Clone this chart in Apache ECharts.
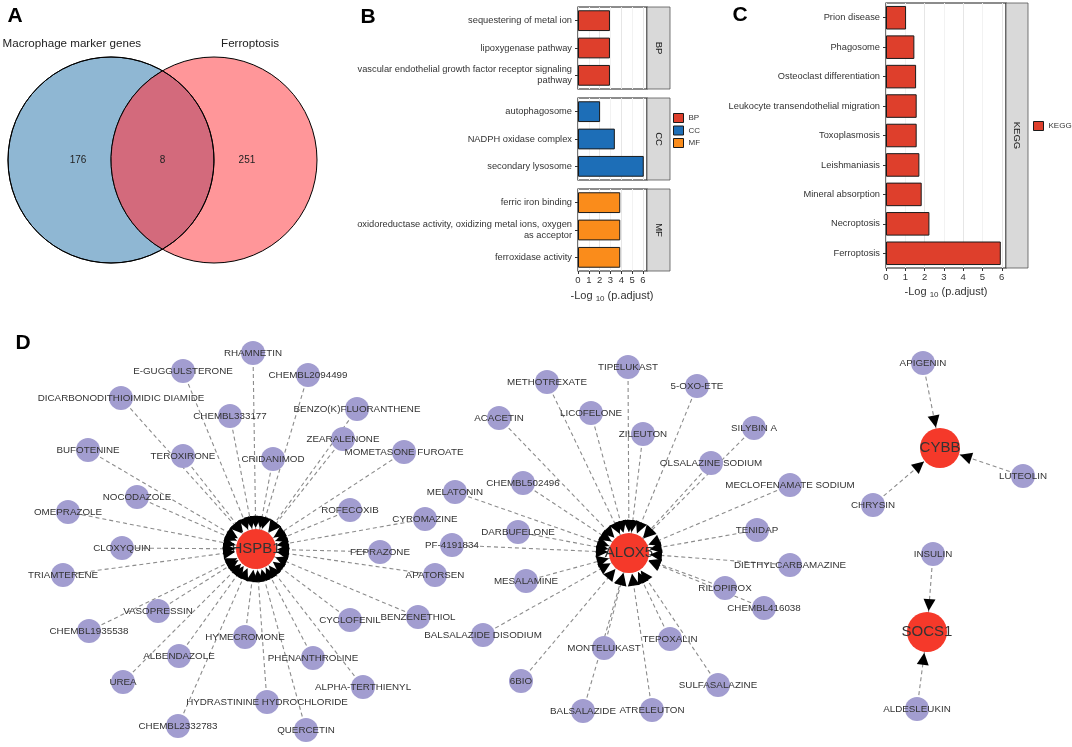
<!DOCTYPE html>
<html><head><meta charset="utf-8">
<script src="https://cdn.jsdelivr.net/npm/echarts@6/dist/echarts.min.js"></script>
<style>html,body{margin:0;padding:0;background:#fff}#c{width:1072px;height:747px}</style>
</head><body><div id="c"></div>
<script>
const FONT = '"Liberation Sans", Arial, Helvetica, sans-serif';
const TXT = '#333333';

// ---------- Panel A: Venn ----------
const vennSets = ['Macrophage marker genes', 'Ferroptosis'];
const vennCounts = [176, 8, 251]; // only set 1, both, only set 2
const vennColors = ['#8fb7d3', '#ff9699', '#d36a7c'];

// ---------- Panel B: GO ----------
const bpTerms = ['sequestering of metal ion', 'lipoxygenase pathway', 'vascular endothelial growth factor receptor signaling\npathway'];
const bpValues = [2.95, 2.95, 2.95];
const ccTerms = ['autophagosome', 'NADPH oxidase complex', 'secondary lysosome'];
const ccValues = [2.04, 3.40, 6.07];
const mfTerms = ['ferric iron binding', 'oxidoreductase activity, oxidizing metal ions, oxygen\nas acceptor', 'ferroxidase activity'];
const mfValues = [3.90, 3.90, 3.90];
const goOntologies = ['BP', 'CC', 'MF'];
const goColors = ['#de3f2c', '#1d6eb7', '#fa8c1b'];
const tickValues = [0, 1, 2, 3, 4, 5, 6];

// ---------- Panel C: KEGG ----------
const keggTerms = ['Prion disease', 'Phagosome', 'Osteoclast differentiation', 'Leukocyte transendothelial migration', 'Toxoplasmosis', 'Leishmaniasis', 'Mineral absorption', 'Necroptosis', 'Ferroptosis'];
const keggValues = [1.04, 1.47, 1.56, 1.59, 1.59, 1.73, 1.85, 2.25, 5.95];

// ---------- Panel D: network (layout coordinates) ----------
const hubNames = ['HSPB1', 'ALOX5', 'CYBB', 'SOCS1'];
const hubXY = [[256, 549], [629, 553], [940, 448], [927, 632]];
const hspb1Drugs = [
  ['RHAMNETIN', 253, 353], ['E-GUGGULSTERONE', 183, 371], ['CHEMBL2094499', 308, 375],
  ['DICARBONODITHIOIMIDIC DIAMIDE', 121, 398], ['CHEMBL333177', 230, 416], ['BENZO(K)FLUORANTHENE', 357, 409],
  ['ZEARALENONE', 343, 439], ['MOMETASONE FUROATE', 404, 452], ['BUFOTENINE', 88, 450],
  ['TEROXIRONE', 183, 456], ['CRIDANIMOD', 273, 459], ['NOCODAZOLE', 137, 497],
  ['ROFECOXIB', 350, 510], ['OMEPRAZOLE', 68, 512], ['CYROMAZINE', 425, 519],
  ['CLOXYQUIN', 122, 548], ['FEPRAZONE', 380, 552], ['TRIAMTERENE', 63, 575],
  ['APATORSEN', 435, 575], ['VASOPRESSIN', 158, 611], ['BENZENETHIOL', 418, 617],
  ['CYCLOFENIL', 350, 620], ['CHEMBL1935538', 89, 631], ['HYMECROMONE', 245, 637],
  ['ALBENDAZOLE', 179, 656], ['PHENANTHROLINE', 313, 658], ['UREA', 123, 682],
  ['ALPHA-TERTHIENYL', 363, 687], ['HYDRASTININE HYDROCHLORIDE', 267, 702], ['CHEMBL2332783', 178, 726],
  ['QUERCETIN', 306, 730]
];
const alox5Drugs = [
  ['TIPELUKAST', 628, 367], ['METHOTREXATE', 547, 382], ['5-OXO-ETE', 697, 386],
  ['ACACETIN', 499, 418], ['LICOFELONE', 591, 413], ['SILYBIN A', 754, 428],
  ['ZILEUTON', 643, 434], ['OLSALAZINE SODIUM', 711, 463], ['CHEMBL502496', 523, 483],
  ['MELATONIN', 455, 492], ['MECLOFENAMATE SODIUM', 790, 485], ['DARBUFELONE', 518, 532],
  ['TENIDAP', 757, 530], ['PF-4191834', 452, 545], ['DIETHYLCARBAMAZINE', 790, 565],
  ['MESALAMINE', 526, 581], ['RILOPIROX', 725, 588], ['BALSALAZIDE DISODIUM', 483, 635],
  ['CHEMBL416038', 764, 608], ['MONTELUKAST', 604, 648], ['TEPOXALIN', 670, 639],
  ['6BIO', 521, 681], ['SULFASALAZINE', 718, 685], ['BALSALAZIDE', 583, 711],
  ['ATRELEUTON', 652, 710]
];
const cybbDrugs = [['APIGENIN', 923, 363], ['LUTEOLIN', 1023, 476], ['CHRYSIN', 873, 505]];
const socs1Drugs = [['INSULIN', 933, 554], ['ALDESLEUKIN', 917, 709]];
const drugGroups = [hspb1Drugs, alox5Drugs, cybbDrugs, socs1Drugs];

const HUB_SIZE = 40, DRUG_SIZE = 24;
const HUB_COLOR = '#f5392a', DRUG_COLOR = '#a29dd0';

function buildNodes(arrowLayer) {
  const nodes = [];
  hubNames.forEach(function (h, i) {
    nodes.push({
      name: h, value: hubXY[i],
      symbolSize: arrowLayer ? 54 : HUB_SIZE,
      itemStyle: { color: HUB_COLOR, opacity: arrowLayer ? 0 : 1 },
      label: { show: !arrowLayer, fontSize: 15, color: TXT }
    });
  });
  drugGroups.forEach(function (g) {
    g.forEach(function (d) {
      nodes.push({
        name: d[0], value: [d[1], d[2]],
        symbolSize: DRUG_SIZE,
        itemStyle: { color: DRUG_COLOR, opacity: arrowLayer ? 0 : 1 },
        label: { show: !arrowLayer, fontSize: 9.8, color: TXT }
      });
    });
  });
  return nodes;
}
const links = [];
drugGroups.forEach(function (g, i) {
  g.forEach(function (d) { links.push({ source: d[0], target: hubNames[i] }); });
});

// ---------- helpers ----------
function barX(gi, max, showLabels) {
  return {
    type: 'value', gridIndex: gi, min: 0, max: max, interval: 0.5,
    axisLine: { show: false },
    axisTick: { show: showLabels, length: 3, lineStyle: { color: '#333' }, customValues: tickValues },
    axisLabel: { show: showLabels, margin: 4, fontSize: 9.5, color: TXT, fontFamily: FONT, customValues: tickValues },
    splitLine: { show: true, lineStyle: { color: ['#e6e6e6', '#f2f2f2'], width: 1 } }
  };
}
function barY(gi, terms) {
  return {
    type: 'category', gridIndex: gi, data: terms, inverse: true,
    axisLine: { show: false },
    axisTick: { show: true, alignWithLabel: true, length: 3, lineStyle: { color: '#333' } },
    axisLabel: { interval: 0, margin: 6, fontSize: 9.3, lineHeight: 11, color: TXT, fontFamily: FONT },
    splitLine: { show: false }
  };
}
const gridStyle = { show: true, borderColor: '#1a1a1a', borderWidth: 1.2, backgroundColor: '#fff' };

function strip(x, y, w, h, label) {
  return [
    { type: 'rect', shape: { x: x, y: y, width: w, height: h }, style: { fill: '#d9d9d9', stroke: '#555', lineWidth: 0.8 } },
    { type: 'text', x: x + w / 2, y: y + h / 2, rotation: -Math.PI / 2,
      style: { text: label, align: 'center', verticalAlign: 'middle', fontSize: 9.5, fill: '#1a1a1a', fontFamily: FONT } }
  ];
}
function axisTitle(cx, cy) {
  return { type: 'text', x: cx, y: cy,
    style: { text: '{a|-Log }{s|10}{a| (p.adjust)}', align: 'center', verticalAlign: 'middle',
      rich: { a: { fontSize: 11, fill: TXT, fontFamily: FONT }, s: { fontSize: 8, fill: TXT, fontFamily: FONT, padding: [6, 0, 0, 0] } } } };
}
function letter(ch, cx, cy) {
  return { type: 'text', x: cx, y: cy, style: { text: ch, align: 'center', verticalAlign: 'middle', fontSize: 21, fontWeight: 'bold', fill: '#000', fontFamily: FONT } };
}

const chart = echarts.init(document.getElementById('c'), null, { renderer: 'canvas' });
const option = {
  animation: false,
  backgroundColor: '#fff',
  textStyle: { fontFamily: FONT },
  grid: [
    { left: 8, top: 57, width: 309, height: 206, show: false },
    Object.assign({ left: 578, top: 7, width: 69, height: 82 }, gridStyle),
    Object.assign({ left: 578, top: 98, width: 69, height: 82 }, gridStyle),
    Object.assign({ left: 578, top: 189, width: 69, height: 82 }, gridStyle),
    Object.assign({ left: 886, top: 3, width: 120, height: 265 }, gridStyle),
    { left: 0, top: 0, width: 1072, height: 747, show: false }
  ],
  xAxis: [
    { type: 'value', gridIndex: 0, min: -1, max: 2, show: false },
    barX(1, 6.37, false), barX(2, 6.37, false), barX(3, 6.37, true),
    barX(4, 6.22, true),
    { type: 'value', gridIndex: 5, min: 0, max: 1072, show: false }
  ],
  yAxis: [
    { type: 'value', gridIndex: 0, min: -1, max: 1, show: false },
    barY(1, bpTerms), barY(2, ccTerms), barY(3, mfTerms), barY(4, keggTerms),
    { type: 'value', gridIndex: 5, min: 0, max: 747, inverse: true, show: false }
  ],
  legend: [
    { data: goOntologies, orient: 'vertical', left: 673, top: 113, padding: 0, itemWidth: 10, itemHeight: 9, itemGap: 2.5, icon: 'rect',
      selectedMode: false, textStyle: { fontSize: 8, color: TXT, fontFamily: FONT }, itemStyle: { borderColor: '#1a1a1a', borderWidth: 1 } },
    { data: ['KEGG'], orient: 'vertical', left: 1033, top: 121, padding: 0, itemWidth: 10, itemHeight: 9, icon: 'rect',
      selectedMode: false, textStyle: { fontSize: 8, color: TXT, fontFamily: FONT }, itemStyle: { borderColor: '#1a1a1a', borderWidth: 1 } }
  ],
  graphic: [].concat(
    strip(647, 7, 23, 82, 'BP'), strip(647, 98, 23, 82, 'CC'), strip(647, 189, 23, 82, 'MF'),
    strip(1006, 3, 22, 265, 'KEGG'),
    [axisTitle(612, 296), axisTitle(946, 292),
     letter('A', 15, 16), letter('B', 368, 17), letter('C', 740, 15), letter('D', 23, 343)]
  ),
  series: [
    {
      type: 'custom', xAxisIndex: 0, yAxisIndex: 0, silent: true,
      data: [[0, 1]],
      renderItem: function (params, api) {
        const c1 = api.coord([api.value(0), 0]);
        const c2 = api.coord([api.value(1), 0]);
        const R = api.coord([api.value(0) + 1, 0])[0] - c1[0];
        const d = c2[0] - c1[0];
        const mx = (c1[0] + c2[0]) / 2, my = c1[1];
        const h = Math.sqrt(R * R - d * d / 4);
        const lens = 'M ' + mx + ' ' + (my - h) + ' A ' + R + ' ' + R + ' 0 0 1 ' + mx + ' ' + (my + h) +
                     ' A ' + R + ' ' + R + ' 0 0 1 ' + mx + ' ' + (my - h) + ' Z';
        const txt = function (t, x, y, fs) {
          return { type: 'text', style: { text: String(t), x: x, y: y, align: 'center', verticalAlign: 'middle', fontSize: fs, fill: '#222', fontFamily: FONT } };
        };
        return {
          type: 'group',
          children: [
            { type: 'circle', shape: { cx: c1[0], cy: c1[1], r: R }, style: { fill: vennColors[0], stroke: '#000', lineWidth: 1 } },
            { type: 'circle', shape: { cx: c2[0], cy: c2[1], r: R }, style: { fill: vennColors[1], stroke: '#000', lineWidth: 1 } },
            { type: 'path', shape: { pathData: lens }, style: { fill: vennColors[2], stroke: '#000', lineWidth: 1 } },
            { type: 'circle', shape: { cx: c1[0], cy: c1[1], r: R }, style: { fill: 'none', stroke: '#000', lineWidth: 1 } },
            txt(vennSets[0], c1[0] - 0.38 * R, c1[1] - 1.13 * R, 11.6),
            txt(vennSets[1], c2[0] + 0.35 * R, c2[1] - 1.13 * R, 11.6),
            txt(vennCounts[0], c1[0] - 0.32 * R, my, 10),
            txt(vennCounts[1], mx, my, 10),
            txt(vennCounts[2], c2[0] + 0.32 * R, my, 10)
          ]
        };
      }
    },
    { type: 'bar', name: 'BP', xAxisIndex: 1, yAxisIndex: 1, data: bpValues, barWidth: '76%', silent: true,
      itemStyle: { color: goColors[0], borderColor: '#1a1a1a', borderWidth: 1 } },
    { type: 'bar', name: 'CC', xAxisIndex: 2, yAxisIndex: 2, data: ccValues, barWidth: '76%', silent: true,
      itemStyle: { color: goColors[1], borderColor: '#1a1a1a', borderWidth: 1 } },
    { type: 'bar', name: 'MF', xAxisIndex: 3, yAxisIndex: 3, data: mfValues, barWidth: '76%', silent: true,
      itemStyle: { color: goColors[2], borderColor: '#1a1a1a', borderWidth: 1 } },
    { type: 'bar', name: 'KEGG', xAxisIndex: 4, yAxisIndex: 4, data: keggValues, barWidth: '80%', silent: true,
      itemStyle: { color: goColors[0], borderColor: '#1a1a1a', borderWidth: 1 } },
    {
      type: 'graph', coordinateSystem: 'cartesian2d', xAxisIndex: 5, yAxisIndex: 5, layout: 'none', silent: true,
      data: buildNodes(false), links: links,
      edgeSymbol: ['none', 'none'],
      lineStyle: { color: '#8c8c8c', width: 1.1, type: [4, 3], opacity: 1, curveness: 0 },
      label: { show: true, position: 'inside', fontFamily: FONT },
      emphasis: { disabled: true }, z: 2
    },
    {
      type: 'graph', coordinateSystem: 'cartesian2d', xAxisIndex: 5, yAxisIndex: 5, layout: 'none', silent: true,
      data: buildNodes(true), links: links,
      edgeSymbol: ['none', 'triangle'], edgeSymbolSize: [0, 12],
      lineStyle: { color: '#000', width: 0, opacity: 1, curveness: 0 },
      label: { show: false },
      emphasis: { disabled: true }, z: 3
    }
  ]
};
chart.setOption(option);
</script>
</body></html>
